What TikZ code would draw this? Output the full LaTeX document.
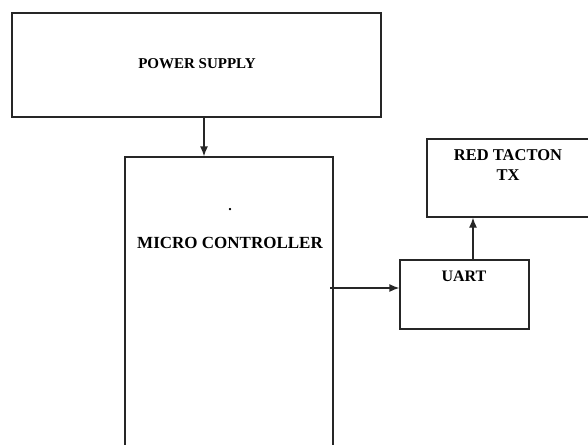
\documentclass[tikz,border=0pt]{standalone}
\usepackage{fontspec}
\setmainfont{Liberation Serif}
\usetikzlibrary{arrows.meta}
\begin{document}
\begin{tikzpicture}[x=1pt,y=-1pt,
  blk/.style={draw=black!85,line width=1.3pt,rectangle,inner sep=0pt},
  lbl/.style={font=\bfseries,inner sep=0pt,align=center},
  arr/.style={draw=black!85,line width=1.3pt,-{Latex[length=10pt,width=8pt]}}]
\useasboundingbox (0,0) rectangle (588,444);
\clip (0,0) rectangle (588,444);
\node[blk,minimum width=369pt,minimum height=104pt] (ps) at (196.5,65) {};
\node[blk,minimum width=208pt,minimum height=320pt] (mc) at (229,317) {};
\node[blk,minimum width=165pt,minimum height=78pt] (rt) at (509.5,178) {};
\node[blk,minimum width=129pt,minimum height=69pt] (uart) at (464.5,294.5) {};
\node[lbl,font=\bfseries\fontsize{15}{18}\selectfont] (pst) at (197,64) {POWER SUPPLY};
\node[lbl,font=\bfseries\fontsize{14}{17}\selectfont] (dot) at (230,210) {.};
\node[lbl,font=\bfseries\fontsize{17}{20}\selectfont] (mct) at (230,243) {MICRO CONTROLLER};
\node[lbl,font=\bfseries\fontsize{16.5}{20}\selectfont] (rtt) at (508,165) {RED TACTON\\TX};
\node[lbl,font=\bfseries\fontsize{16}{19}\selectfont] (uartt) at (464,276) {UART};
\coordinate (c1) at (204,117);
\coordinate (c2) at (330,288);
\coordinate (c3) at (473,260);
\draw[arr] (ps.south -| c1) -- (mc.north -| c1);
\draw[arr] (c2) -- (c2 -| uart.west);
\draw[arr] (uart.north -| c3) -- (rt.south -| c3);
\end{tikzpicture}
\end{document}
